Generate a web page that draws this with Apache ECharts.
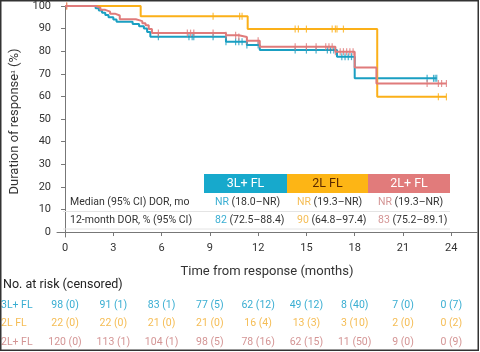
<!DOCTYPE html>
<html><head><meta charset="utf-8">
<script src="https://cdn.jsdelivr.net/npm/echarts@6/dist/echarts.min.js"></script>
<style>html,body{margin:0;padding:0;background:#fff}#c{width:480px;height:352px}</style>
</head><body><div id="c"></div>
<script>
// ---- data ----
const groups = ['3L+ FL', '2L FL', '2L+ FL'];
const xTicks = [0, 3, 6, 9, 12, 15, 18, 21, 24];
const yTicks = [0, 10, 20, 30, 40, 50, 60, 70, 80, 90, 100];

const t3L = [0, 1.9, 2.1, 2.3, 2.5, 2.7, 3.0, 3.2, 4.2, 4.6, 4.9, 5.1, 5.3, 10.0, 11.3, 12.1, 16.9, 18.0, 23.1];
const s3L = [100, 99, 98, 97, 96, 95, 94, 93, 92, 91, 90, 88.5, 86.4, 84.2, 82.7, 80.5, 77.6, 68.0, 68.0];
const c3L = [5.8, 7.7, 7.9, 8.0, 9.2, 10.0, 10.6, 10.8, 11.0, 11.3, 12.0, 14.3, 15.0, 15.6, 16.3, 16.5, 16.7, 17.2, 17.4, 17.6, 17.8, 22.5, 22.9, 23.0, 23.1];

const t2L = [0, 4.7, 11.35, 19.4, 23.7];
const s2L = [100, 95.5, 89.8, 59.8, 59.8];
const c2L = [0.1, 9.2, 10.85, 11.0, 14.3, 14.5, 15.0, 16.6, 16.8, 16.9, 17.3, 23.2, 23.7];

const t2Lp = [0, 1.9, 2.2, 2.5, 2.8, 3.1, 3.4, 4.4, 4.8, 5.0, 5.2, 5.4, 10.0, 10.8, 11.3, 12.1, 16.8, 18.0, 19.35, 23.7];
const s2Lp = [100, 99.2, 98.3, 97.5, 96.6, 95.8, 94.1, 93.3, 92.4, 91.5, 89.8, 88.0, 87.1, 86.3, 84.6, 82.0, 79.8, 72.8, 65.7, 65.7];
const c2Lp = [0.1, 5.8, 7.6, 7.8, 8.0, 9.2, 10.0, 10.6, 10.8, 11.3, 12.0, 14.3, 15.0, 15.6, 16.2, 16.4, 16.6, 16.8, 17.1, 17.3, 17.5, 17.7, 17.9, 22.5, 23.2, 23.4, 23.7];

const medianLead = ['NR', 'NR', 'NR'];
const medianCI = ['(18.0–NR)', '(19.3–NR)', '(19.3–NR)'];
const dor12 = ['82', '90', '83'];
const dor12CI = ['(72.5–88.4)', '(64.8–97.4)', '(75.2–89.1)'];

const risk3L = ['98 (0)', '91 (1)', '83 (1)', '77 (5)', '62 (12)', '49 (12)', '8 (40)', '7 (0)', '0 (7)'];
const risk2L = ['22 (0)', '22 (0)', '21 (0)', '21 (0)', '16 (4)', '13 (3)', '3 (10)', '2 (0)', '0 (2)'];
const risk2Lp = ['120 (0)', '113 (1)', '104 (1)', '98 (5)', '78 (16)', '62 (15)', '11 (50)', '9 (0)', '0 (9)'];

// ---- styles ----
const lineCol = ['#1a9fc2', '#fbb019', '#e07b7b'];
const boxCol = ['#17a9cc', '#fdb515', '#e17b7b'];
const riskCol = ['#3aaed2', '#f5bd55', '#d49595'];
const FONT = 'Roboto';

function pairs(t, s) { return t.map((v, i) => [v, s[i]]); }
function censor(ct, t, s) {
  return ct.map(c => { let v = s[0]; for (let i = 0; i < t.length; i++) if (t[i] <= c) v = s[i]; return [c, v]; });
}

const chart = echarts.init(document.getElementById('c'), null, { renderer: 'canvas' });
const curves = [[t3L, s3L, c3L], [t2L, s2L, c2L], [t2Lp, s2Lp, c2Lp]];
const order = [1, 2, 0];
const series = [];
order.forEach(k => {
  const [t, s, c] = curves[k];
  series.push({ type: 'line', step: 'end', data: pairs(t, s), showSymbol: false, symbol: 'none',
    lineStyle: { color: lineCol[k], width: 2 }, z: 2 + k, animation: false, silent: true });
  series.push({ type: 'scatter', data: censor(c, t, s), symbol: 'rect', symbolSize: [1.2, 7],
    itemStyle: { color: lineCol[k] }, z: 2 + k, animation: false, silent: true });
});

chart.setOption({
  animation: false,
  grid: { left: 57, right: 3, top: 6, bottom: 115, containLabel: false },
  xAxis: { type: 'value', min: -0.5, max: 25.6,
    name: 'Time from response (months)', nameLocation: 'middle', nameGap: 28,
    nameTextStyle: { fontFamily: FONT, fontSize: 13, color: '#333' },
    axisLine: { show: true, lineStyle: { color: '#777', width: 1 } },
    axisTick: { show: true, length: 4, lineStyle: { color: '#777' }, customValues: xTicks },
    axisLabel: { fontFamily: FONT, fontSize: 11, color: '#333', margin: 6, customValues: xTicks },
    splitLine: { show: false } },
  yAxis: { type: 'value', min: -2.2, max: 100,
    name: 'Duration of responseᵃ (%)', nameLocation: 'middle', nameGap: 27, nameRotate: 90,
    nameTextStyle: { fontFamily: FONT, fontSize: 13, color: '#333' },
    axisLine: { show: true, lineStyle: { color: '#777', width: 1 } },
    axisTick: { show: true, length: 4, lineStyle: { color: '#777' }, customValues: yTicks },
    axisLabel: { fontFamily: FONT, fontSize: 11, color: '#333', margin: 6, customValues: yTicks },
    splitLine: { show: false } },
  series: series
});

// ---- annotation table & risk table ----
const g = [];
const boxX = [204, 287, 368], boxW = [83, 81, 82];
const headTxt = ['#fff', '#5b2a00', '#fff'];
const F11 = '10.5px ' + FONT;
groups.forEach((name, i) => {
  g.push({ type: 'rect', shape: { x: boxX[i], y: 174, width: boxW[i], height: 19 }, style: { fill: boxCol[i] }, z: 10 });
  g.push({ type: 'text', x: boxX[i] + boxW[i] / 2, y: 183.5, z: 11,
    style: { text: name, fill: headTxt[i], font: '12.5px ' + FONT, align: 'center', verticalAlign: 'middle' } });
  const tx = [215, 297, 378][i];
  g.push({ type: 'text', x: tx, y: 202, z: 11, style: { text: '{a|' + medianLead[i] + '} ' + medianCI[i],
    font: F11, fill: '#333', verticalAlign: 'middle',
    rich: { a: { fill: riskCol[i], font: F11 } } } });
  g.push({ type: 'text', x: tx, y: 220, z: 11, style: { text: '{a|' + dor12[i] + '} ' + dor12CI[i],
    font: F11, fill: '#333', verticalAlign: 'middle',
    rich: { a: { fill: riskCol[i], font: F11 } } } });
});
g.push({ type: 'text', x: 70, y: 202, z: 11, style: { text: 'Median (95% CI) DOR, mo', font: F11, fill: '#333', verticalAlign: 'middle' } });
g.push({ type: 'text', x: 70, y: 220, z: 11, style: { text: '12-month DOR, % (95% CI)', font: F11, fill: '#333', verticalAlign: 'middle' } });
[211.5, 229].forEach(yy => g.push({ type: 'line', shape: { x1: 63, y1: yy, x2: 450, y2: yy }, style: { stroke: '#e4e4e4', lineWidth: 1 }, z: 9 }));

g.push({ type: 'text', x: 3, y: 285, style: { text: 'No. at risk (censored)', font: '12.5px ' + FONT, fill: '#222', verticalAlign: 'middle' } });
const riskRows = [risk3L, risk2L, risk2Lp];
const rowY = [305, 323.5, 342.5];
riskRows.forEach((row, r) => {
  g.push({ type: 'text', x: 1, y: rowY[r], style: { text: groups[r], font: F11, fill: riskCol[r], verticalAlign: 'middle' } });
  row.forEach((txt, i) => {
    const px = chart.convertToPixel({ xAxisIndex: 0 }, xTicks[i]);
    g.push({ type: 'text', x: px, y: rowY[r], style: { text: txt, font: F11, fill: riskCol[r], align: 'center', verticalAlign: 'middle' } });
  });
});
g.push({ type: 'rect', shape: { x: 0.75, y: 0.75, width: 477.5, height: 349.5 }, style: { fill: 'none', stroke: '#333', lineWidth: 1.5 }, z: 20 });
chart.setOption({ graphic: g });
</script></body></html>
